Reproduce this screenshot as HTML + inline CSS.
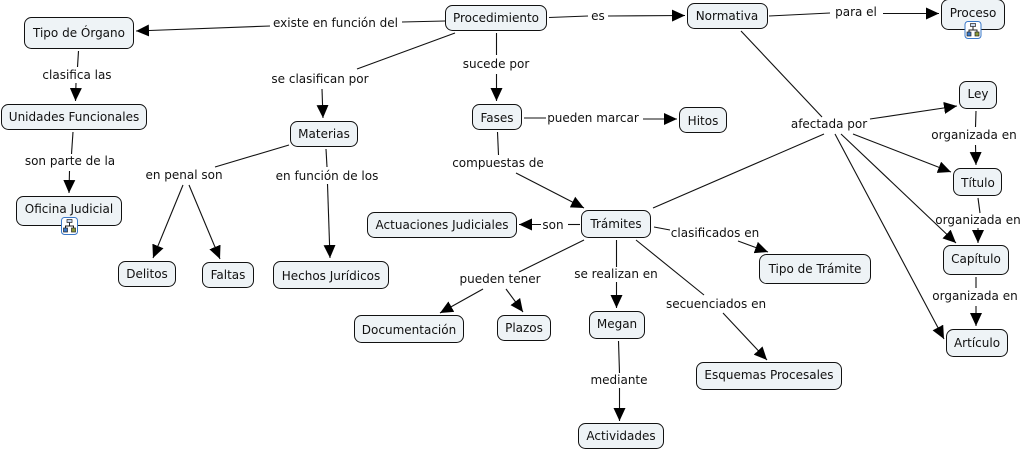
<!DOCTYPE html>
<html><head><meta charset="utf-8">
<style>
html,body{margin:0;padding:0;background:#fff;width:1024px;height:451px;overflow:hidden}
svg{display:block}
text{font-family:"DejaVu Sans","Liberation Sans",sans-serif;font-size:12px;fill:#111;text-anchor:middle}
.n rect{fill:#eef3f6;stroke:#111;stroke-width:1}
.l line{stroke:#111;stroke-width:1.1}
.a line{stroke:#111;stroke-width:1.1;marker-end:url(#h)}
</style></head><body>
<svg width="1024" height="451" viewBox="0 0 1024 451" xmlns="http://www.w3.org/2000/svg">
<defs><marker id="h" markerUnits="userSpaceOnUse" markerWidth="14" markerHeight="12" refX="13" refY="6" orient="auto"><path d="M0 0L13 6L0 12Z" fill="#000"/></marker></defs>
<g class="l">
<line x1="445" y1="21" x2="402" y2="22"/>
<line x1="78.5" y1="51" x2="77.5" y2="67"/>
<line x1="73" y1="132" x2="71.5" y2="154"/>
<line x1="455" y1="33" x2="357" y2="69"/>
<line x1="289" y1="145" x2="215" y2="167"/>
<line x1="326" y1="149" x2="327" y2="167"/>
<line x1="496.5" y1="33" x2="496.5" y2="55"/>
<line x1="524" y1="118" x2="546" y2="118"/>
<line x1="497.5" y1="132" x2="498.5" y2="155"/>
<line x1="549" y1="17.5" x2="588" y2="16"/>
<line x1="769" y1="16" x2="830" y2="13"/>
<line x1="741" y1="31" x2="822" y2="117"/>
<line x1="653" y1="208" x2="824" y2="134"/>
<line x1="976" y1="111" x2="975.5" y2="127"/>
<line x1="978" y1="198" x2="980" y2="213"/>
<line x1="976" y1="277" x2="976" y2="288"/>
<line x1="580" y1="224.500" x2="568" y2="224.500"/>
<line x1="584" y1="240" x2="519" y2="272"/>
<line x1="616.5" y1="240" x2="616.5" y2="267"/>
<line x1="636" y1="240" x2="704" y2="295"/>
<line x1="654" y1="227" x2="670" y2="230"/>
<line x1="618.500" y1="341" x2="619.500" y2="373"/>
</g>
<g class="a">
<line x1="270" y1="26" x2="136" y2="31"/>
<line x1="76" y1="83" x2="75.500" y2="101"/>
<line x1="69.500" y1="171" x2="69" y2="193"/>
<line x1="322" y1="89" x2="323" y2="118"/>
<line x1="183" y1="185" x2="153" y2="258"/>
<line x1="189" y1="185" x2="220" y2="259"/>
<line x1="327.500" y1="184" x2="330" y2="258"/>
<line x1="496.500" y1="74" x2="496.500" y2="101"/>
<line x1="643" y1="119" x2="677" y2="119"/>
<line x1="516" y1="173" x2="584" y2="208"/>
<line x1="608" y1="16" x2="685" y2="15.500"/>
<line x1="883" y1="13.500" x2="939" y2="13.500"/>
<line x1="870" y1="119" x2="957" y2="106"/>
<line x1="853" y1="134" x2="951" y2="172"/>
<line x1="841" y1="134" x2="956" y2="243"/>
<line x1="835" y1="134" x2="944" y2="339"/>
<line x1="975.500" y1="145" x2="976" y2="165"/>
<line x1="978" y1="228" x2="978" y2="243"/>
<line x1="976" y1="306" x2="976" y2="326"/>
<line x1="541" y1="224.500" x2="519" y2="224.500"/>
<line x1="483" y1="289" x2="440" y2="313"/>
<line x1="506" y1="289" x2="523" y2="312"/>
<line x1="616.500" y1="282" x2="616.500" y2="308"/>
<line x1="723" y1="313" x2="767" y2="360"/>
<line x1="738" y1="241" x2="768" y2="252"/>
<line x1="619.500" y1="388" x2="619.500" y2="421"/>
</g>
<g class="n">
<rect x="24.500" y="17.500" width="109" height="31" rx="7"/>
<rect x="1.500" y="104.500" width="145" height="25" rx="7"/>
<rect x="16.500" y="196.500" width="105" height="29" rx="7"/>
<rect x="445.500" y="5.500" width="101" height="25" rx="7"/>
<rect x="687.500" y="3.500" width="80" height="25" rx="7"/>
<rect x="941.500" y="-0.500" width="63" height="30" rx="7"/>
<rect x="959.500" y="81.500" width="37" height="27" rx="7"/>
<rect x="953.500" y="168.500" width="48" height="27" rx="7"/>
<rect x="943.500" y="245.500" width="65" height="29" rx="7"/>
<rect x="946.500" y="329.500" width="61" height="27" rx="7"/>
<rect x="290.500" y="121.500" width="67" height="25" rx="7"/>
<rect x="472.500" y="104.500" width="49" height="25" rx="7"/>
<rect x="679.500" y="107.500" width="47" height="25" rx="7"/>
<rect x="367.500" y="212.500" width="149" height="25" rx="7"/>
<rect x="581.500" y="210.500" width="69" height="27" rx="7"/>
<rect x="759.500" y="254.500" width="111" height="29" rx="7"/>
<rect x="118.500" y="261.500" width="57" height="25" rx="7"/>
<rect x="202.500" y="262.500" width="51" height="25" rx="7"/>
<rect x="273.500" y="261.500" width="115" height="27" rx="7"/>
<rect x="354.500" y="315.500" width="109" height="27" rx="7"/>
<rect x="497.500" y="315.500" width="53" height="25" rx="7"/>
<rect x="589.500" y="311.500" width="55" height="27" rx="7"/>
<rect x="696.500" y="362.500" width="145" height="27" rx="7"/>
<rect x="578.500" y="423.500" width="85" height="25" rx="7"/>
</g>
<g>
<text x="79" y="37">Tipo de Órgano</text>
<text x="74" y="121">Unidades Funcionales</text>
<text x="69" y="213">Oficina Judicial</text>
<text x="496" y="22">Procedimiento</text>
<text x="727" y="20">Normativa</text>
<text x="973" y="17">Proceso</text>
<text x="978" y="98">Ley</text>
<text x="978" y="187">Título</text>
<text x="976" y="263">Capítulo</text>
<text x="977" y="347">Artículo</text>
<text x="324" y="138">Materias</text>
<text x="497" y="122">Fases</text>
<text x="703" y="125">Hitos</text>
<text x="442" y="229">Actuaciones Judiciales</text>
<text x="616" y="228">Trámites</text>
<text x="815" y="273">Tipo de Trámite</text>
<text x="147" y="278">Delitos</text>
<text x="228" y="279">Faltas</text>
<text x="331" y="280">Hechos Jurídicos</text>
<text x="409" y="334">Documentación</text>
<text x="524" y="332">Plazos</text>
<text x="617" y="328">Megan</text>
<text x="769" y="379">Esquemas Procesales</text>
<text x="621" y="440">Actividades</text>
<text x="335.500" y="27">existe en función del</text>
<text x="77" y="79">clasifica las</text>
<text x="70" y="165">son parte de la</text>
<text x="320" y="83">se clasifican por</text>
<text x="184" y="179">en penal son</text>
<text x="327" y="180">en función de los</text>
<text x="496" y="68">sucede por</text>
<text x="593" y="122">pueden marcar</text>
<text x="498" y="167">compuestas de</text>
<text x="598" y="20">es</text>
<text x="856" y="16">para el</text>
<text x="829" y="128">afectada por</text>
<text x="974" y="139">organizada en</text>
<text x="978" y="224">organizada en</text>
<text x="975" y="300">organizada en</text>
<text x="553" y="229">son</text>
<text x="715" y="237">clasificados en</text>
<text x="500" y="283">pueden tener</text>
<text x="616" y="278">se realizan en</text>
<text x="716" y="308">secuenciados en</text>
<text x="619" y="384">mediante</text>
</g>
<g transform="translate(61,217)">
<rect x="0.500" y="0.500" width="16" height="17" rx="3" fill="#fff" stroke="#3a78c8"/>
<path d="M8.500 5V9M4.500 11V9H12.500V11" fill="none" stroke="#222"/>
<rect x="6" y="2.500" width="5" height="3" fill="#c8d8f0" stroke="#222" stroke-width=".7"/>
<rect x="2.500" y="11" width="4" height="4" fill="#3a78c8" stroke="#222" stroke-width=".7"/>
<rect x="10.500" y="11" width="4" height="4" fill="#8a9a3a" stroke="#222" stroke-width=".7"/>
</g>
<g transform="translate(964.500,21)">
<rect x="0.500" y="0.500" width="16" height="17" rx="3" fill="#fff" stroke="#3a78c8"/>
<path d="M8.500 5V9M4.500 11V9H12.500V11" fill="none" stroke="#222"/>
<rect x="6" y="2.500" width="5" height="3" fill="#c8d8f0" stroke="#222" stroke-width=".7"/>
<rect x="2.500" y="11" width="4" height="4" fill="#3a78c8" stroke="#222" stroke-width=".7"/>
<rect x="10.500" y="11" width="4" height="4" fill="#8a9a3a" stroke="#222" stroke-width=".7"/>
</g>
</svg>
</body></html>
